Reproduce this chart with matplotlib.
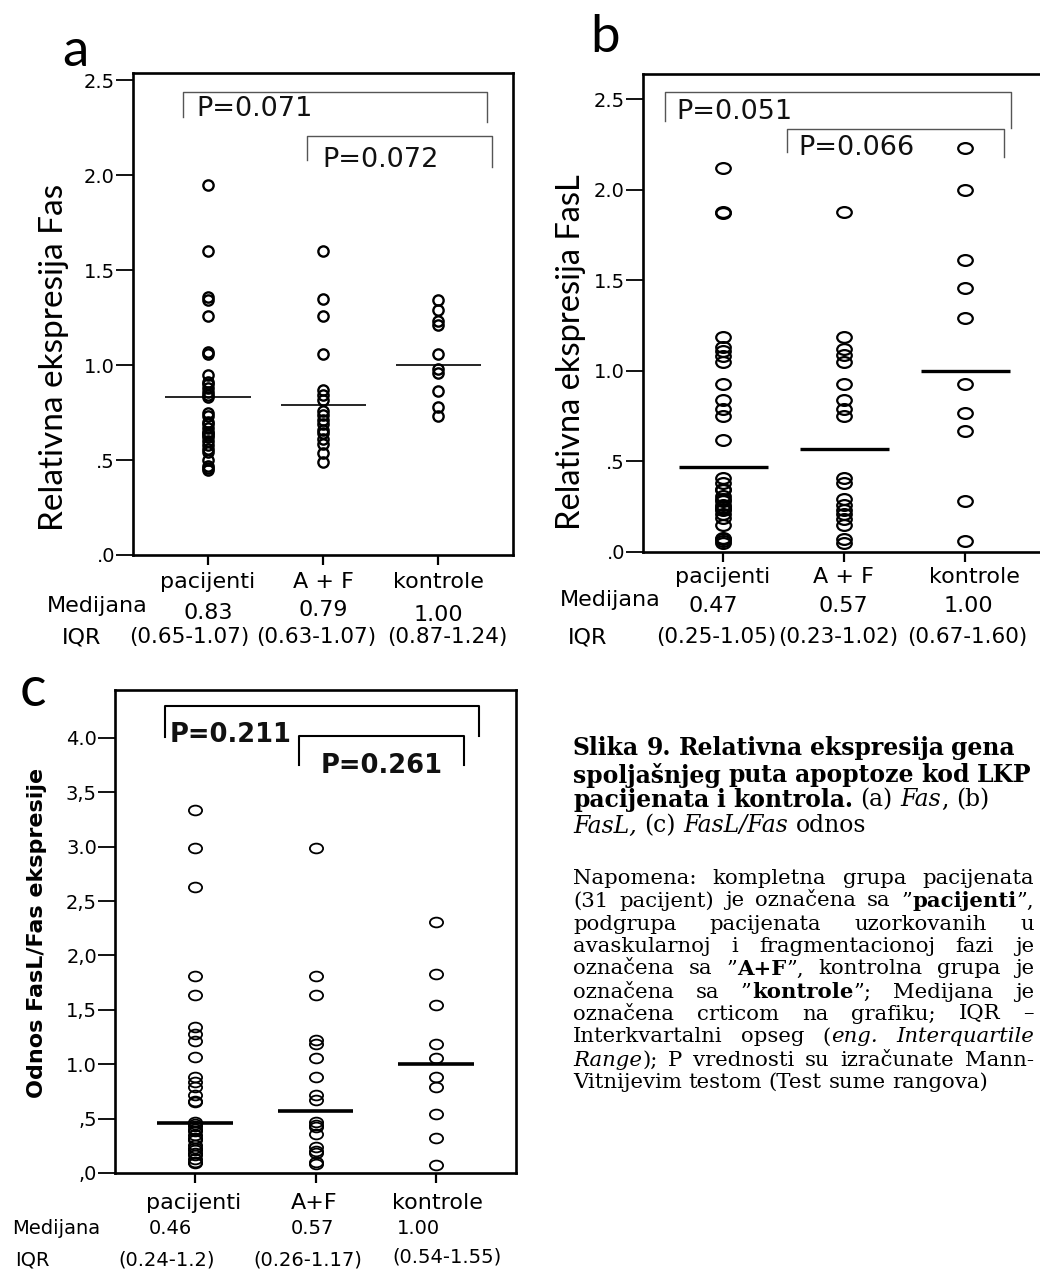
import matplotlib
matplotlib.use("Agg")
import matplotlib.pyplot as plt
from matplotlib.path import Path
from matplotlib.transforms import Affine2D

W, H = 1040, 1273

# ---- data ----
groups_ab = ["pacijenti", "A + F", "kontrole"]
groups_c = ["pacijenti", "A+F", "kontrole"]

fas_pac = [1.95, 1.60, 1.36, 1.34, 1.26, 1.07, 1.06, 0.95, 0.91, 0.90, 0.88, 0.86, 0.84, 0.83,
           0.75, 0.73, 0.70, 0.69, 0.67, 0.65, 0.64, 0.63, 0.62, 0.60, 0.58, 0.56, 0.54, 0.50,
           0.47, 0.46, 0.45]
fas_af = [1.60, 1.35, 1.26, 1.06, 0.87, 0.84, 0.815, 0.76, 0.735, 0.71, 0.69, 0.66, 0.64,
          0.61, 0.585, 0.535, 0.49]
fas_kon = [1.34, 1.29, 1.23, 1.21, 1.06, 0.98, 0.96, 0.865, 0.78, 0.73]

fasl_pac = [2.12, 1.88, 1.87, 1.19, 1.13, 1.11, 1.08, 1.05, 0.93, 0.84, 0.79, 0.75, 0.62,
            0.41, 0.38, 0.35, 0.34, 0.31, 0.29, 0.28, 0.26, 0.25, 0.24, 0.23, 0.21, 0.19,
            0.15, 0.08, 0.07, 0.06, 0.05]
fasl_af = [1.88, 1.19, 1.12, 1.09, 1.05, 0.93, 0.84, 0.79, 0.75, 0.41, 0.38, 0.29, 0.26,
           0.23, 0.21, 0.18, 0.15, 0.07, 0.05]
fasl_kon = [2.23, 2.00, 1.61, 1.46, 1.29, 0.93, 0.77, 0.67, 0.28, 0.06]

ratio_pac = [3.34, 2.99, 2.63, 1.81, 1.64, 1.34, 1.28, 1.21, 1.07, 0.88, 0.84, 0.79, 0.72,
             0.66, 0.65, 0.47, 0.45, 0.43, 0.40, 0.39, 0.35, 0.32, 0.30, 0.26, 0.23, 0.21,
             0.18, 0.17, 0.13, 0.10, 0.09]
ratio_af = [2.99, 1.81, 1.64, 1.22, 1.19, 1.06, 0.88, 0.72, 0.67, 0.47, 0.44, 0.42, 0.36,
            0.24, 0.20, 0.18, 0.10, 0.08]
ratio_kon = [2.31, 1.83, 1.54, 1.19, 1.06, 0.88, 0.79, 0.54, 0.32, 0.07]

med_a = [0.83, 0.79, 1.00]
med_b = [0.47, 0.57, 1.00]
med_c = [0.46, 0.57, 1.00]
med_a_txt = ["0.83", "0.79", "1.00"]
med_b_txt = ["0.47", "0.57", "1.00"]
med_c_txt = ["0.46", "0.57", "1.00"]
iqr_a = ["(0.65-1.07)", "(0.63-1.07)", "(0.87-1.24)"]
iqr_b = ["(0.25-1.05)", "(0.23-1.02)", "(0.67-1.60)"]
iqr_c = ["(0.24-1.2)", "(0.26-1.17)", "(0.54-1.55)"]

ticks_ab = [0, 0.5, 1.0, 1.5, 2.0, 2.5]
ticklab_ab = [".0", ".5", "1.0", "1.5", "2.0", "2.5"]
ticks_c = [0, 0.5, 1.0, 1.5, 2.0, 2.5, 3.0, 3.5, 4.0]
ticklab_c = [",0", ",5", "1.0", "1,5", "2,0", "2,5", "3.0", "3,5", "4.0"]

# brackets: x_left, x_right, top, left leg end, right leg end, label, label x, label y
brk_a = [(0.785, 3.42, 2.435, 2.307, 2.28, "P=0.071", 0.90, 2.35),
         (1.86, 3.47, 2.205, 2.08, 2.04, "P=0.072", 1.99, 2.08)]
brk_b = [(0.518, 3.38, 2.54, 2.378, 2.34, "P=0.051", 0.615, 2.43),
         (1.524, 3.32, 2.337, 2.21, 2.18, "P=0.066", 1.62, 2.23)]
brk_c = [(0.75, 3.36, 4.29, 4.01, 4.02, "P=0.211", 0.79, 4.03),
         (1.866, 3.23, 4.017, 3.75, 3.75, "P=0.261", 2.04, 3.74)]

fig = plt.figure(figsize=(W / 100, H / 100), dpi=100)


def px_axes(l, t, r, b):
    return fig.add_axes([l / W, 1 - b / H, (r - l) / W, (b - t) / H])


def put(x, y, s, **kw):
    kw.setdefault("ha", "center")
    kw.setdefault("va", "center")
    return fig.text(x / W, 1 - y / H, s, **kw)


circle = Path.unit_circle()
oval = circle.transformed(Affine2D().scale(1.35, 1.0))


def panel(ax, series, meds, half, ylim, xlim, ticks, ticklab, brk, marker, ms, mew,
          med_lw, brk_color, brk_lw, p_weight, p_size):
    for i, vals in enumerate(series):
        ax.plot([i + 1] * len(vals), vals, ls="none", marker=marker, ms=ms,
                mfc="none", mec="black", mew=mew)
        ax.hlines(meds[i], i + 1 - half, i + 1 + half, color="black", lw=med_lw)
    for x0, x1, top, l0, l1, lab, tx, ty in brk:
        ax.plot([x0, x0, x1, x1], [l0, top, top, l1], color=brk_color, lw=brk_lw)
        ax.text(tx, ty, lab, ha="left", va="center", fontsize=p_size,
                fontweight=p_weight, color="#111111")
    ax.set_xlim(*xlim)
    ax.set_ylim(*ylim)
    ax.set_yticks(ticks)
    ax.set_yticklabels(ticklab)
    ax.set_xticks([1, 2, 3])
    ax.set_xticklabels([])
    ax.tick_params(axis="y", direction="out", length=12, width=1.3, pad=1,
                   labelsize=14)
    ax.tick_params(axis="x", direction="out", length=7, width=1.6)
    for sp in ax.spines.values():
        sp.set_linewidth(1.9)


# ---- panel a ----
ax_a = px_axes(133, 73, 513, 555)
panel(ax_a, [fas_pac, fas_af, fas_kon], med_a, 0.37, (0, 2.537), (0.348, 3.65),
      ticks_ab, ticklab_ab, brk_a, "o", 7.4, 1.7, 1.2, "#555555", 1.0, "normal", 19.5)
put(54, 357, "Relativna ekspresija Fas", rotation=90, family="Lato", fontsize=24)
put(75, 52, "a", family="Lato", fontsize=38)
for x, s in zip([208, 323, 438], groups_ab):
    put(x, 582, s, fontsize=16)
put(47, 606, "Medijana", ha="left", fontsize=16)
for x, y, s in zip([208, 323, 438], [613, 610, 615], med_a_txt):
    put(x, y, s, fontsize=16)
put(62, 637, "IQR", ha="left", fontsize=16)
for x, s in zip([189, 316, 447], iqr_a):
    put(x, 637, s, fontsize=15.5)

# ---- panel b ----
ax_b = px_axes(643, 74, 1050, 552)
panel(ax_b, [fasl_pac, fasl_af, fasl_kon], med_b, 0.37, (0, 2.64), (0.336, 3.70),
      ticks_ab, ticklab_ab, brk_b, oval, 10.5, 1.6, 2.4, "#555555", 1.0, "normal", 19.5)
put(571, 352, "Relativna ekspresija FasL", rotation=90, family="Lato", fontsize=23.5)
put(605, 38, "b", family="Lato", fontsize=38)
for x, s in zip([723, 843, 974], groups_ab):
    put(x, 577, s, fontsize=16)
put(560, 600, "Medijana", ha="left", fontsize=16)
for x, s in zip([713, 843, 968], med_b_txt):
    put(x, 606, s, fontsize=16)
put(568, 638, "IQR", ha="left", fontsize=16)
for x, s in zip([716, 838, 967], iqr_b):
    put(x, 637, s, fontsize=15.5)

# ---- panel c ----
ax_c = px_axes(115, 690, 516, 1173)
panel(ax_c, [ratio_pac, ratio_af, ratio_kon], med_c, 0.315, (0, 4.44), (0.336, 3.664),
      ticks_c, ticklab_c, brk_c, oval, 9.5, 1.3, 2.6, "black", 1.5, "bold", 18.5)
put(37, 933, "Odnos FasL/Fas ekspresije", rotation=90, fontweight="bold", fontsize=16)
put(33, 690, "c", family="Lato", fontsize=40)
for x, s in zip([194, 314, 437], groups_c):
    put(x, 1203, s, fontsize=16)
put(12, 1228, "Medijana", ha="left", fontsize=14)
for x, s in zip([170, 312, 418], med_c_txt):
    put(x, 1228, s, fontsize=14)
put(15, 1260, "IQR", ha="left", fontsize=14)
for x, y, s in zip([167, 308, 447], [1260, 1260, 1257], iqr_c):
    put(x, y, s, fontsize=14)

# ---- caption ----
title_lines = [
    [[("Slika", "b")], [("9.", "b")], [("Relativna", "b")], [("ekspresija", "b")], [("gena", "b")]],
    [[("spoljašnjeg", "b")], [("puta", "b")], [("apoptoze", "b")], [("kod", "b")], [("LKP", "b")]],
    [[("pacijenata", "b")], [("i", "b")], [("kontrola.", "b")], [("(a)", "n")], [("Fas", "i"), (",", "n")], [("(b)", "n")]],
    [[("FasL,", "i")], [("(c)", "n")], [("FasL/Fas", "i")], [("odnos", "n")]],
]
title_y = [748, 775, 800, 826]

body_words = [
    "Napomena: kompletna grupa pacijenata",
    "(31 pacijent) je označena sa",
    "podgrupa pacijenata uzorkovanih u",
    "avaskularnoj i fragmentacionoj fazi je",
    "označena sa",
    "označena sa",
    "označena crticom na grafiku; IQR –",
    "Interkvartalni opseg",
    "",
    "Vitnijevim testom (Test sume rangova)",
]
body_lines = [[[(w, "n")] for w in s.split()] for s in body_words]
body_lines[1].append([("”", "n"), ("pacijenti", "b"), ("”,", "n")])
body_lines[4] += [[("”", "n"), ("A+F", "b"), ("”,", "n")], [("kontrolna", "n")],
                  [("grupa", "n")], [("je", "n")]]
body_lines[5] += [[("”", "n"), ("kontrole", "b"), ("”;", "n")], [("Medijana", "n")],
                  [("je", "n")]]
body_lines[7] += [[("(", "n"), ("eng.", "i")], [("Interquartile", "i")]]
body_lines[8] = [[("Range", "i"), (");", "n")], [("P", "n")], [("vrednosti", "n")],
                 [("su", "n")], [("izračunate", "n")], [("Mann-", "n")]]
body_y = [878, 901, 924, 946, 969, 992, 1014, 1037, 1060, 1082]

renderer = fig.canvas.get_renderer()
SERIF = "DejaVu Serif"
X0, X1 = 573, 1034


def style_kw(st):
    return dict(fontweight="bold" if st == "b" else "normal",
                fontstyle="italic" if st == "i" else "normal")


def space_width(size):
    t1 = fig.text(0, 0, "a a", fontsize=size, family=SERIF)
    t2 = fig.text(0, 0, "aa", fontsize=size, family=SERIF)
    w = t1.get_window_extent(renderer).width - t2.get_window_extent(renderer).width
    t1.remove()
    t2.remove()
    return w


def natural_width(words, size):
    tot = 0
    for word in words:
        for txt, st in word:
            t = fig.text(0, 0, txt, fontsize=size, family=SERIF, **style_kw(st))
            tot += t.get_window_extent(renderer).width
            t.remove()
    return tot + space_width(size) * (len(words) - 1)


def draw_line(words, x0, y, size, right=None):
    placed = []
    widths = []
    for word in words:
        pieces = []
        tot = 0
        for txt, st in word:
            t = put(0, y, txt, ha="left", fontsize=size, family=SERIF, **style_kw(st))
            pw = t.get_window_extent(renderer).width
            pieces.append((t, pw))
            tot += pw
        placed.append(pieces)
        widths.append(tot)
    gap = space_width(size)
    if right is not None and len(words) > 1:
        gap = (right - x0 - sum(widths)) / (len(words) - 1)
    x = x0
    for pieces in placed:
        for t, pw in pieces:
            t.set_position((x / W, 1 - y / H))
            x += pw
        x += gap


# font sizes chosen so the first title line and the last body line have the
# reference's widths, but never wider than the column
title_size = 10 * 459 / natural_width(title_lines[0], 10)
title_size = min([title_size] + [10 * (X1 - X0) / natural_width(l, 10) for l in title_lines])
body_size = 10 * 454 / natural_width(body_lines[-1], 10)
body_size = min([body_size] + [10 * (X1 - X0) / (1.04 * natural_width(l, 10))
                               for l in body_lines])

for words, y in zip(title_lines, title_y):
    draw_line(words, X0, y, title_size)
for i, (words, y) in enumerate(zip(body_lines, body_y)):
    draw_line(words, X0, y, body_size, right=None if i == len(body_lines) - 1 else X1)

fig.savefig("out.png", dpi=100)
